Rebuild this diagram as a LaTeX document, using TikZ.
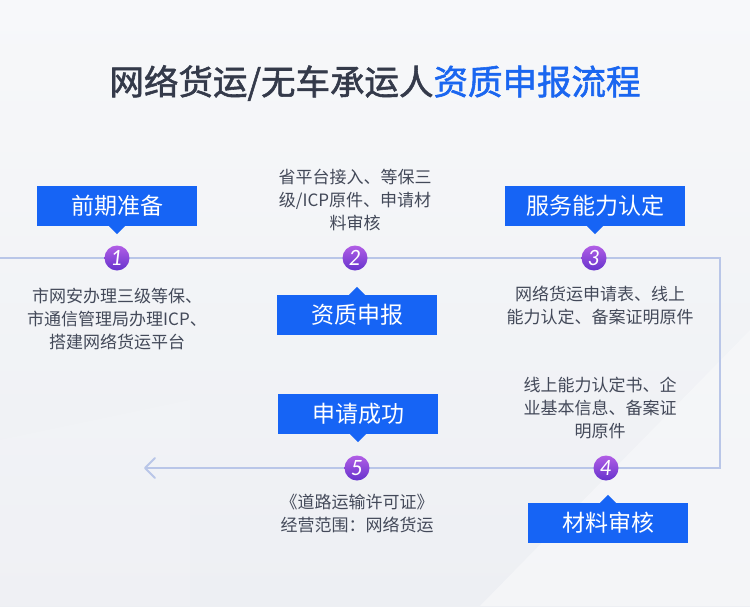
\documentclass[tikz,border=0pt]{standalone}
\usepackage{fontspec}
\setmainfont{Noto Sans CJK SC}
\newfontfamily\titlefont[FakeBold=1.6]{Noto Sans CJK SC}
\newfontfamily\numfont{Lato}
\usetikzlibrary{arrows.meta}
\definecolor{bgtop}{HTML}{F7F8FA}
\definecolor{bgbot}{HTML}{EDEFF3}
\definecolor{bgl}{HTML}{F6F7F9}
\definecolor{titled}{HTML}{343A4A}
\definecolor{titleb}{HTML}{1A66F0}
\definecolor{boxc}{HTML}{1664F5}
\definecolor{linec}{HTML}{B9C6E8}
\definecolor{txtc}{HTML}{434959}
\definecolor{ctop}{HTML}{B25EE6}
\definecolor{cbot}{HTML}{6633CC}
\tikzset{
  lbl/.style={rectangle, fill=boxc, text=white, minimum height=40pt, inner sep=0pt,
    font=\fontsize{23}{26}\selectfont},
  num/.style={circle, minimum size=25pt, inner sep=0pt, top color=ctop, bottom color=cbot,
    text=white, font=\numfont\itshape\fontsize{21}{21}\selectfont},
  desc/.style={align=center, text=txtc, font=\fontsize{17}{23}\selectfont, inner sep=0pt},
  flow/.style={draw=linec, line width=2pt},
  ptr/.style={fill=boxc}
}
\begin{document}
\begin{tikzpicture}[x=1pt,y=-1pt]
\useasboundingbox (0,0) rectangle (750,606);
\shade[top color=bgtop, bottom color=bgbot] (0,0) rectangle (750,606);
\fill[bgl, opacity=0.8] (480,606) -- (750,330) -- (750,606) -- cycle;
\fill[white, opacity=0.12] (0,440) -- (190,400) -- (190,606) -- (0,606) -- cycle;

\node[font=\titlefont\fontsize{34.5}{38}\selectfont] (title) at (375,83)
  {\textcolor{titled}{网络货运/无车承运人}\textcolor{titleb}{资质申报流程}};

% flow line
\coordinate (s) at (0,258);
\coordinate (tr) at (720,258);
\coordinate (br) at (720,468);
\coordinate (e) at (145,468);
\draw[flow] (s) -- (tr) -- (br) -- (e);
\draw[linec, line width=2pt, line cap=round, line join=round] (155,458) -- (e) -- (155,478);

% circles
\node[num] (c1) at (117,258) {1};
\node[num] (c2) at (355,258) {2};
\node[num] (c3) at (594,258) {3};
\node[num] (c4) at (606,468) {4};
\node[num] (c5) at (357,468) {5};

% label boxes
\node[lbl, minimum width=160pt] (b1) at (117,206) {前期准备};
\fill[ptr] (b1.south) ++(-8,0) -- ++(8,8) -- ++(8,-8) -- cycle;
\node[lbl, minimum width=160pt] (b2) at (357,315) {资质申报};
\fill[ptr] (b2.north) ++(-8,0) -- ++(8,-8) -- ++(8,8) -- cycle;
\node[lbl, minimum width=180pt] (b3) at (595,206) {服务能力认定};
\fill[ptr] (b3.south) ++(-8,0) -- ++(8,8) -- ++(8,-8) -- cycle;
\node[lbl, minimum width=160pt] (b4) at (608,523) {材料审核};
\fill[ptr] (b4.north) ++(-8,0) -- ++(8,-8) -- ++(8,8) -- cycle;
\node[lbl, minimum width=160pt] (b5) at (358,414) {申请成功};
\fill[ptr] (b5.south) ++(-8,0) -- ++(8,8) -- ++(8,-8) -- cycle;

% descriptions
\node[desc] (t1) at (117,319) {市网安办理三级等保、\\市通信管理局办理ICP、\\搭建网络货运平台};
\node[desc] (t2) at (355,200) {省平台接入、等保三\\级/ICP原件、申请材\\料审核};
\node[desc] (t3) at (600,305.5) {网络货运申请表、线上\\能力认定、备案证明原件};
\node[desc] (t4) at (600,408) {线上能力认定书、企\\业基本信息、备案证\\明原件};
\node[desc] (t5) at (357,513.5) {《道路运输许可证》\\经营范围：网络货运};
\end{tikzpicture}
\end{document}
